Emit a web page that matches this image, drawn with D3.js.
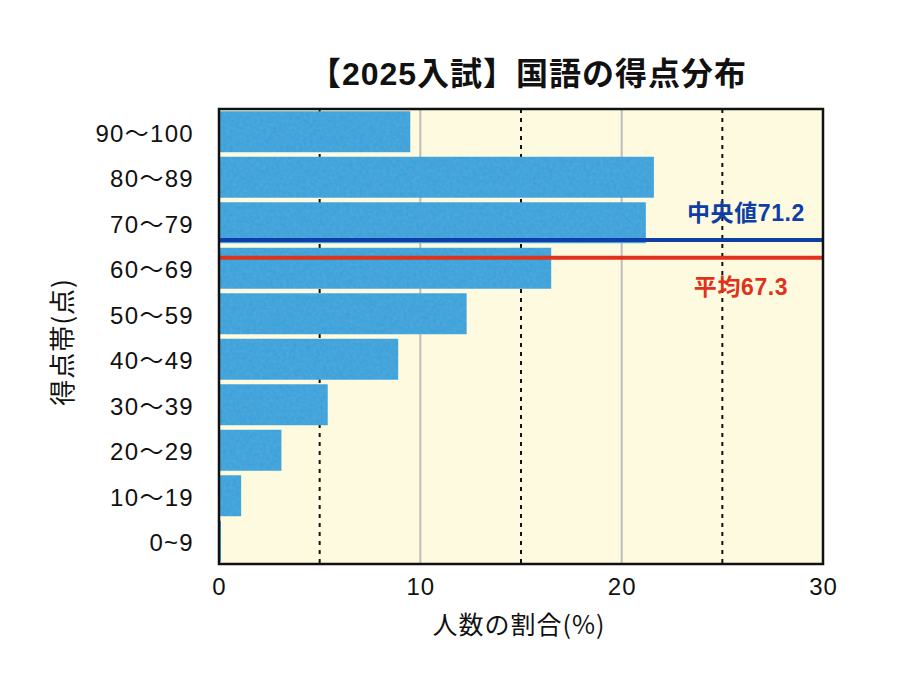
<!DOCTYPE html>
<html>
<head>
<meta charset="utf-8">
<script src="https://cdn.jsdelivr.net/npm/d3@7"></script>
<style>
body { margin:0; background:#fff; }
text { font-family: "Liberation Sans", "Noto Sans CJK JP", sans-serif; }
</style>
</head>
<body>
<div id="chart"></div>
<script>

// score bands (top to bottom) and share of examinees (%)
let bands = ['90〜100','80〜89','70〜79','60〜69','50〜59','40〜49','30〜39','20〜29','10〜19','0~9']
let shares = [9.5,21.6,21.2,16.5,12.3,8.9,5.4,3.1,1.1,0.1]

let median_val = 71.2
let mean_val = 67.3

let x_ticks = [0,10,20,30]
let solid_grid = [10,20]
let dash_grid = [5,15,25]

let width = 903, height = 676
let p_left = 219, p_right = 823, p_top = 109, p_bottom = 564

let svg = d3.select('#chart')
.append('svg')
.attr('width', width)
.attr('height', height)

// grainy texture for the bars
let defs = svg.append('defs')
let filt = defs.append('filter').attr('id', 'grain')
filt.append('feTurbulence')
.attr('type', 'fractalNoise')
.attr('baseFrequency', 0.3)
.attr('numOctaves', 2)
.attr('seed', 3)
.attr('result', 'noise')
filt.append('feColorMatrix')
.attr('in', 'noise')
.attr('type', 'matrix')
.attr('values', '0 0 0 0 1  0 0 0 0 1  0 0 0 0 1  0 0 0 0.06 0')
.attr('result', 'spots')
filt.append('feComposite')
.attr('in', 'spots')
.attr('in2', 'SourceGraphic')
.attr('operator', 'in')
.attr('result', 'spots2')
filt.append('feMerge').selectAll('feMergeNode')
.data(['SourceGraphic','spots2'])
.join('feMergeNode')
.attr('in', d=>d)

let x = d3.scaleLinear()
.domain([0,30])
.range([p_left, p_right])

let y = d3.scaleBand()
.domain(bands)
.range([p_top, p_bottom])
.paddingInner(0.1)
.paddingOuter(0.05)

let yScore = d3.scaleLinear()
.domain([0,100])
.range([p_bottom, p_top])

// plot background
svg.append('rect')
.attr('x', p_left)
.attr('y', p_top)
.attr('width', p_right-p_left)
.attr('height', p_bottom-p_top)
.attr('fill', '#fdfadf')

svg.selectAll('.grid_solid')
.data(solid_grid)
.join('line')
.attr('class', 'grid_solid')
.attr('x1', d=>x(d)).attr('x2', d=>x(d))
.attr('y1', p_top).attr('y2', p_bottom)
.attr('stroke', '#bdbdbd')
.attr('stroke-width', 2)

svg.selectAll('.grid_dash')
.data(dash_grid)
.join('line')
.attr('class', 'grid_dash')
.attr('x1', d=>x(d)).attr('x2', d=>x(d))
.attr('y1', p_top).attr('y2', p_bottom)
.attr('stroke', '#111')
.attr('stroke-width', 2)
.attr('stroke-dasharray', '4,5')

svg.selectAll('.bar')
.data(bands)
.join('rect')
.attr('class', 'bar')
.attr('x', x(0))
.attr('y', d=>y(d))
.attr('height', y.bandwidth())
.attr('width', (d,i)=>x(shares[i]) - x(0))
.attr('fill', '#33a1da')
.attr('filter', 'url(#grain)')

// median and mean lines
svg.append('line')
.attr('x1', p_left).attr('x2', p_right)
.attr('y1', yScore(median_val)).attr('y2', yScore(median_val))
.attr('stroke', '#0f3fa6')
.attr('stroke-width', 4)

svg.append('line')
.attr('x1', p_left).attr('x2', p_right)
.attr('y1', yScore(mean_val)).attr('y2', yScore(mean_val))
.attr('stroke', '#e0321a')
.attr('stroke-width', 4)

svg.append('text')
.attr('x', 746)
.attr('y', 221)
.attr('text-anchor', 'middle')
.attr('fill', '#0f3fa6')
.attr('font-size', 23)
.attr('font-weight', 'bold')
.attr('letter-spacing', 0.6)
.text('中央値' + median_val)

svg.append('text')
.attr('x', 741)
.attr('y', 295)
.attr('text-anchor', 'middle')
.attr('fill', '#e0321a')
.attr('font-size', 23)
.attr('font-weight', 'bold')
.attr('letter-spacing', 0.6)
.text('平均' + mean_val)

// frame
svg.append('rect')
.attr('x', p_left)
.attr('y', p_top)
.attr('width', p_right-p_left)
.attr('height', p_bottom-p_top)
.attr('fill', 'none')
.attr('stroke', '#111')
.attr('stroke-width', 2.5)

// axes
let xAxis = svg.append('g')
.attr('transform', `translate(0,${p_bottom})`)
.call(d3.axisBottom(x).tickValues(x_ticks).tickSize(0))
xAxis.select('.domain').remove()
xAxis.selectAll('text')
.attr('y', 31)
.attr('dy', 0)
.attr('font-size', 24)
.attr('letter-spacing', 1)
.attr('fill', '#111')
.style('font-family', '"Liberation Sans", "Noto Sans CJK JP", sans-serif')

let yAxis = svg.append('g')
.attr('transform', `translate(${p_left},0)`)
.call(d3.axisLeft(y).tickSize(0).tickPadding(25))
yAxis.select('.domain').remove()
yAxis.selectAll('text')
.attr('dy', '0.42em')
.attr('font-size', 24)
.attr('letter-spacing', 1.3)
.attr('fill', '#111')
.style('font-family', '"Liberation Sans", "Noto Sans CJK JP", sans-serif')

// titles
svg.append('text')
.attr('x', 528)
.attr('y', 85)
.attr('text-anchor', 'middle')
.attr('font-size', 32)
.attr('font-weight', 'bold')
.attr('letter-spacing', 1)
.attr('fill', '#111')
.text('【2025入試】国語の得点分布')

svg.append('text')
.attr('x', 519)
.attr('y', 634)
.attr('text-anchor', 'middle')
.attr('font-size', 25)
.attr('letter-spacing', 1)
.attr('fill', '#111')
.style('font-family', '"Noto Sans CJK JP", sans-serif')
.text('人数の割合(%)')

svg.append('text')
.attr('transform', 'translate(72,342) rotate(-90)')
.attr('text-anchor', 'middle')
.attr('font-size', 26)
.attr('letter-spacing', 1)
.attr('fill', '#111')
.style('font-family', '"Noto Sans CJK JP", sans-serif')
.text('得点帯(点)')

</script>
</body>
</html>
